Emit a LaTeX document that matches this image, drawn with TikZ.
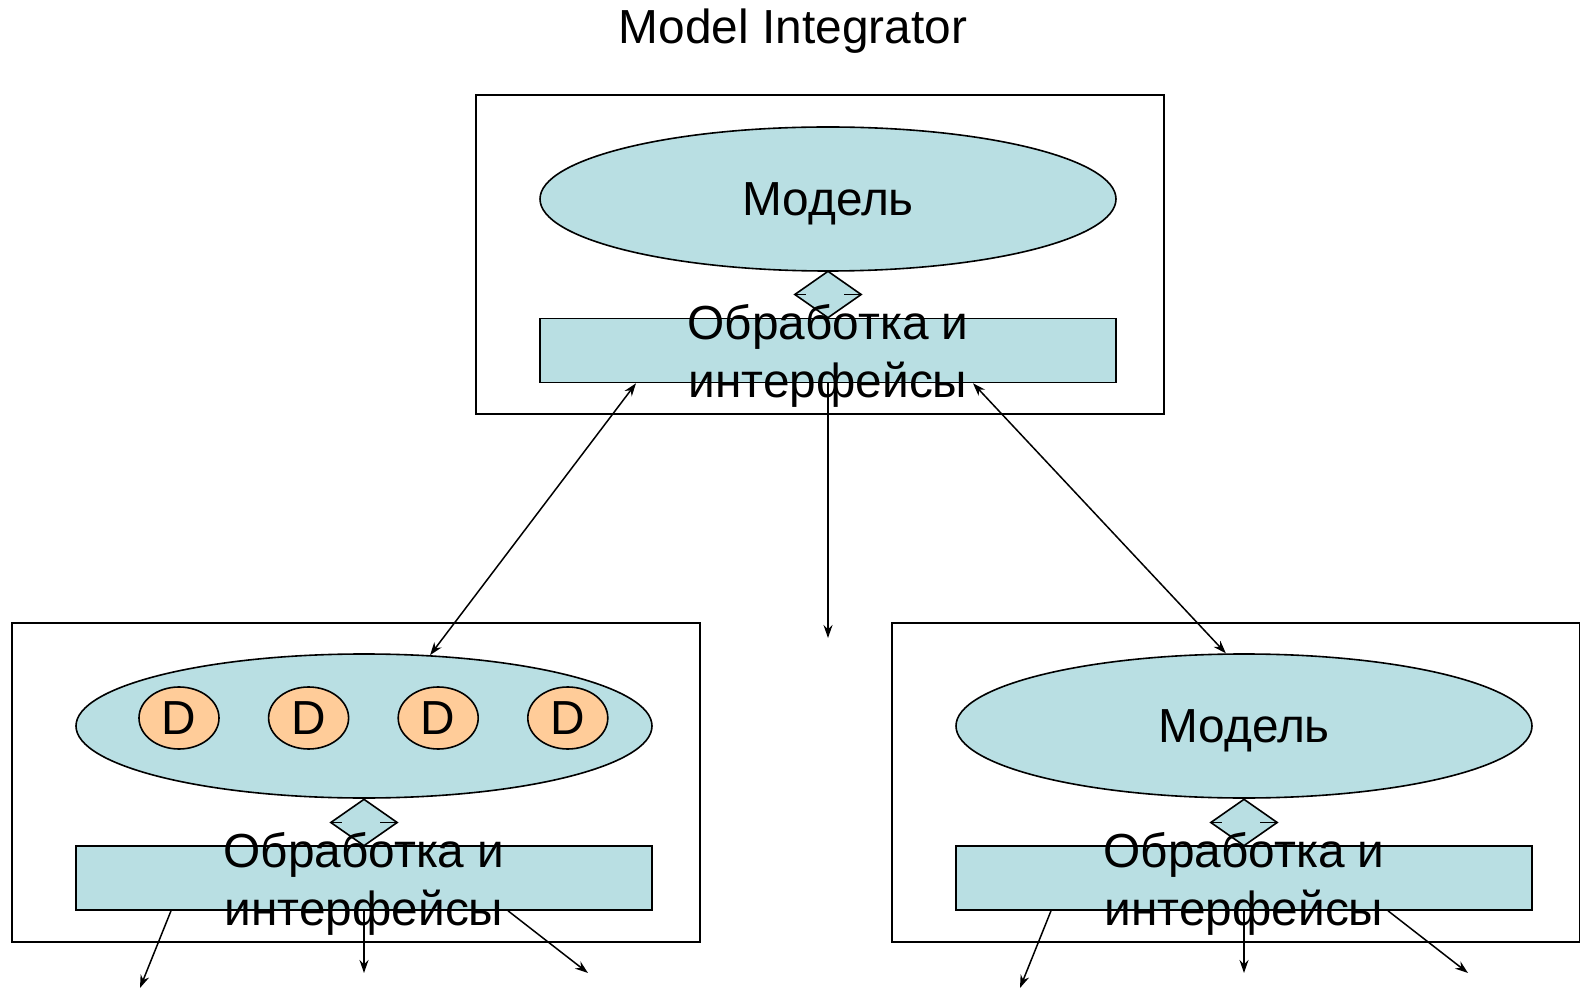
\documentclass[tikz,border=0pt]{standalone}
\usepackage{fontspec}
\setmainfont{Liberation Sans}
\usetikzlibrary{shapes.geometric,arrows.meta,positioning}
\definecolor{modelblue}{RGB}{185,223,227}
\definecolor{dorange}{RGB}{255,204,153}

\begin{document}
\begin{tikzpicture}[x=0.5pt, y=-0.5pt, node distance=24pt,
    font=\fontsize{23.9}{29}\selectfont,
    box/.style={rectangle, draw, line width=1pt, minimum width=344pt, minimum height=159.5pt},
    model/.style={ellipse, draw, line width=0.8pt, fill=modelblue, minimum width=288pt, minimum height=72pt, inner sep=0pt, text depth=0pt},
    proc/.style={rectangle, draw, line width=0.8pt, fill=modelblue, minimum width=288pt, minimum height=32pt, inner sep=0pt},
    link/.style={diamond, draw, line width=0.8pt, fill=modelblue, minimum width=33.5pt, minimum height=23.5pt, inner sep=0pt},
    dnode/.style={ellipse, draw, line width=0.8pt, fill=dorange, minimum width=40pt, minimum height=31pt, inner sep=0pt},
    proctext/.style={align=center, inner sep=0pt},
    arrow/.style={-{Stealth[length=6.5pt,width=4.5pt]}, line width=0.75pt},
    both/.style={{Stealth[length=6.5pt,width=4.5pt]}-{Stealth[length=6.5pt,width=4.5pt]}, line width=0.75pt}]

    \useasboundingbox (0,0) rectangle (1580,989);

    % Title
    \node (title) at (793,31) {Model Integrator};

    % Integrator (top)
    \node[box] (tbox) at (820,254.5) {};
    \node[model] (tmodel) at (828,199) {Модель};
    \node[proc] (tproc) at (828,350.5) {};
    \node[link] (tlink) at (828,294.5) {};
    \draw[line width=0.9pt] (tlink.west) -- ++(6pt,0);
    \draw[line width=0.9pt] (tlink.east) -- ++(-9pt,0);

    % Left block
    \node[box] (lbox) at (355.5,782.5) {};
    \node[model] (lmodel) at (364,726) {};
    \node[dnode] (d1) at (179,718) {D};
    \node[dnode, right=of d1] (d2) {D};
    \node[dnode, right=of d2] (d3) {D};
    \node[dnode, right=of d3] (d4) {D};
    \node[proc] (lproc) at (364,878) {};
    \node[link] (llink) at (364,822.5) {};
    \draw[line width=0.9pt] (llink.west) -- ++(6pt,0);
    \draw[line width=0.9pt] (llink.east) -- ++(-9pt,0);

    % Right block
    \node[box] (rbox) at (1235.5,782.5) {};
    \node[model] (rmodel) at (1244,726) {Модель};
    \node[proc] (rproc) at (1244,878) {};
    \node[link] (rlink) at (1244,822.5) {};
    \draw[line width=0.9pt] (rlink.west) -- ++(6pt,0);
    \draw[line width=0.9pt] (rlink.east) -- ++(-9pt,0);

    % Outputs
    \coordinate (tout) at (828,638);
    \coordinate (lout1) at (140,988);
    \coordinate (lout2) at (364,973);
    \coordinate (lout3) at (588,973);
    \coordinate (rout1) at (1020,988);
    \coordinate (rout2) at (1244,973);
    \coordinate (rout3) at (1468,973);

    % Arrows
    \draw[both] ([xshift=-96pt]tproc.south) -- (lmodel.47);
    \draw[both] ([xshift=72.5pt]tproc.south) -- (rmodel.104);
    \draw[arrow] (tproc.south) -- (tout);
    \draw[arrow] ([xshift=-96.5pt]lproc.south) -- (lout1);
    \draw[arrow] (lproc.south) -- (lout2);
    \draw[arrow] ([xshift=72pt]lproc.south) -- (lout3);
    \draw[arrow] ([xshift=-96.5pt]rproc.south) -- (rout1);
    \draw[arrow] (rproc.south) -- (rout2);
    \draw[arrow] ([xshift=72pt]rproc.south) -- (rout3);

    % Texts over the processing bars
    \node[proctext] (ttext) at (828,356) {Обработка и\\интерфейсы};
    \node[proctext] (ltext) at (364,884) {Обработка и\\интерфейсы};
    \node[proctext] (rtext) at (1244,884) {Обработка и\\интерфейсы};

\end{tikzpicture}
\end{document}
